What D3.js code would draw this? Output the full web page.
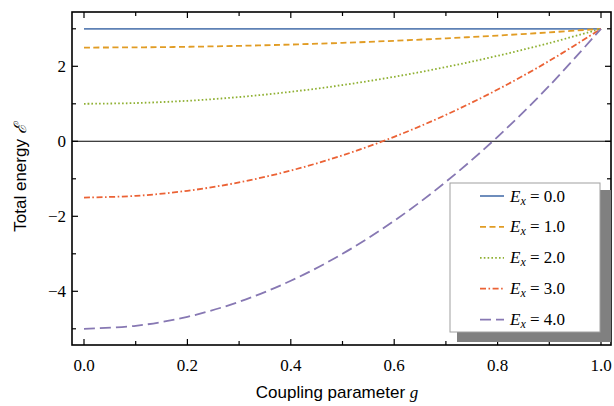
<!DOCTYPE html>
<html lang="en">
  <head>
    <meta charset="utf-8">
    <title>energy</title>
    <style>
      body { margin: 0; background: #fff; }
      text { fill: #000; }
    </style>
  </head>
  <body>

<script src="https://d3js.org/d3.v7.min.js"></script>

<script>

// data
var g = [0, 0.1, 0.2, 0.3, 0.4, 0.5, 0.6, 0.7, 0.8, 0.9, 1.0];
var energy0 = [3, 3, 3, 3, 3, 3, 3, 3, 3, 3, 3];
var energy1 = [2.5, 2.505, 2.52, 2.545, 2.58, 2.625, 2.68, 2.745, 2.82, 2.905, 3];
var energy2 = [1, 1.02, 1.08, 1.18, 1.32, 1.5, 1.72, 1.98, 2.28, 2.62, 3];
var energy3 = [-1.5, -1.455, -1.32, -1.095, -0.78, -0.375, 0.12, 0.705, 1.38, 2.145, 3];
var energy4 = [-5, -4.92, -4.68, -4.28, -3.72, -3, -2.12, -1.08, 0.12, 1.48, 3];
var labels = ["0.0", "1.0", "2.0", "3.0", "4.0"];
var xTicks = [0, 0.2, 0.4, 0.6, 0.8, 1.0];
var yTicks = [-4, -2, 0, 2];

var colors = ["#5e81b5", "#e19c24", "#8fb032", "#eb6235", "#8778b3"];
var dashes = [null, "6,3.5", "1.6,2.2", "6,2.5,1.6,2.5", "11,5"];
var allSeries = [energy0, energy1, energy2, energy3, energy4];

var W = 614, H = 406;
var pL = 72, pR = 611, pT = 12, pB = 345;

var svg = d3.select("body").append("svg")
            .attr("width", W)
            .attr("height", H);

var x = d3.scaleLinear().domain([0, 1]).range([84, 601]);
var y = d3.scaleLinear().domain([0, 2]).range([141.3, 66.3]);

svg.append("clipPath").attr("id", "plotclip")
   .append("rect")
   .attr("x", pL).attr("y", pT)
   .attr("width", pR - pL).attr("height", pB - pT);

// zero line
svg.append("line")
   .attr("x1", pL).attr("x2", pR)
   .attr("y1", y(0)).attr("y2", y(0))
   .attr("stroke", "#000")
   .attr("stroke-width", 1.1);

// curves
var line = d3.line()
             .x(function(d, i) { return x(g[i]); })
             .y(function(d) { return y(d); })
             .curve(d3.curveCatmullRom);

var plot = svg.append("g").attr("clip-path", "url(#plotclip)");
allSeries.forEach(function(s, k) {
  plot.append("path")
      .attr("d", line(s))
      .attr("fill", "none")
      .attr("stroke", colors[k])
      .attr("stroke-width", 1.8)
      .attr("stroke-dasharray", dashes[k]);
});

// ticks on all four sides, pointing inward
var minorX = d3.range(0, 1.001, 0.1);
var minorY = d3.range(-5, 3.5, 1);

function tickLen(isMajor) { return isMajor ? 6 : 4; }

minorX.forEach(function(v) {
  var major = Math.abs(v * 5 - Math.round(v * 5)) < 1e-6;
  svg.append("line")
     .attr("x1", x(v)).attr("x2", x(v))
     .attr("y1", pB).attr("y2", pB - tickLen(major))
     .attr("stroke", "#000").attr("stroke-width", 1.2);
  svg.append("line")
     .attr("x1", x(v)).attr("x2", x(v))
     .attr("y1", pT).attr("y2", pT + tickLen(major))
     .attr("stroke", "#000").attr("stroke-width", 1.2);
});

minorY.forEach(function(v) {
  var major = v % 2 === 0;
  svg.append("line")
     .attr("x1", pL).attr("x2", pL + tickLen(major))
     .attr("y1", y(v)).attr("y2", y(v))
     .attr("stroke", "#000").attr("stroke-width", 1.2);
  svg.append("line")
     .attr("x1", pR).attr("x2", pR - tickLen(major))
     .attr("y1", y(v)).attr("y2", y(v))
     .attr("stroke", "#000").attr("stroke-width", 1.2);
});

// frame
svg.append("rect")
   .attr("x", pL).attr("y", pT)
   .attr("width", pR - pL).attr("height", pB - pT)
   .attr("fill", "none")
   .attr("stroke", "#000")
   .attr("stroke-width", 1.6);

// tick labels
svg.selectAll(".xlab").data(xTicks).enter().append("text")
   .attr("x", function(d) { return x(d); })
   .attr("y", 371)
   .attr("text-anchor", "middle")
   .style("font-family", "'Liberation Serif', 'DejaVu Serif', serif")
   .style("font-size", "17px")
   .text(function(d) { return d3.format(".1f")(d); });

svg.selectAll(".ylab").data(yTicks).enter().append("text")
   .attr("x", 66)
   .attr("y", function(d) { return y(d) + 6; })
   .attr("text-anchor", "end")
   .style("font-family", "'Liberation Serif', 'DejaVu Serif', serif")
   .style("font-size", "17px")
   .text(function(d) { return d < 0 ? "\u2212" + Math.abs(d) : d; });

// axis titles
svg.append("text")
   .attr("x", 337).attr("y", 398)
   .attr("text-anchor", "middle")
   .style("font-family", "'Liberation Sans', Arial, sans-serif")
   .style("font-size", "17px")
   .text("Coupling parameter ")
   .append("tspan")
   .style("font-family", "'Liberation Serif', serif")
   .style("font-style", "italic")
   .text("g");

var ytitle = svg.append("text")
   .attr("transform", "translate(26,178) rotate(-90)")
   .attr("text-anchor", "middle")
   .style("font-family", "'Liberation Sans', Arial, sans-serif")
   .style("font-size", "17px")
   .text("Total energy ");
ytitle.append("tspan")
   .style("font-family", "'DejaVu Serif', serif")
   .style("font-style", "italic")
   .text("\u2130");

// legend
var lg = svg.append("g");
lg.append("rect")
  .attr("x", 457).attr("y", 190)
  .attr("width", 154).attr("height", 152)
  .attr("fill", "#808080");
lg.append("rect")
  .attr("x", 450).attr("y", 183)
  .attr("width", 150).attr("height", 149)
  .attr("fill", "#fff")
  .attr("stroke", "#a0a0a0")
  .attr("stroke-width", 1);

labels.forEach(function(lab, k) {
  var yy = 196 + k * 30.9;
  lg.append("line")
    .attr("x1", 480).attr("x2", 504)
    .attr("y1", yy).attr("y2", yy)
    .attr("stroke", colors[k])
    .attr("stroke-width", 1.8)
    .attr("stroke-dasharray", dashes[k]);
  var t = lg.append("text")
    .attr("x", 510).attr("y", yy + 5.5)
    .style("font-family", "'Liberation Serif', 'DejaVu Serif', serif")
    .style("font-size", "17px");
  t.append("tspan").style("font-style", "italic").text("E");
  t.append("tspan").style("font-style", "italic").style("font-size", "12px")
   .attr("dy", 3).text("x");
  t.append("tspan").attr("dy", -3).text(" = " + lab);
});

</script>

  </body>
</html>
